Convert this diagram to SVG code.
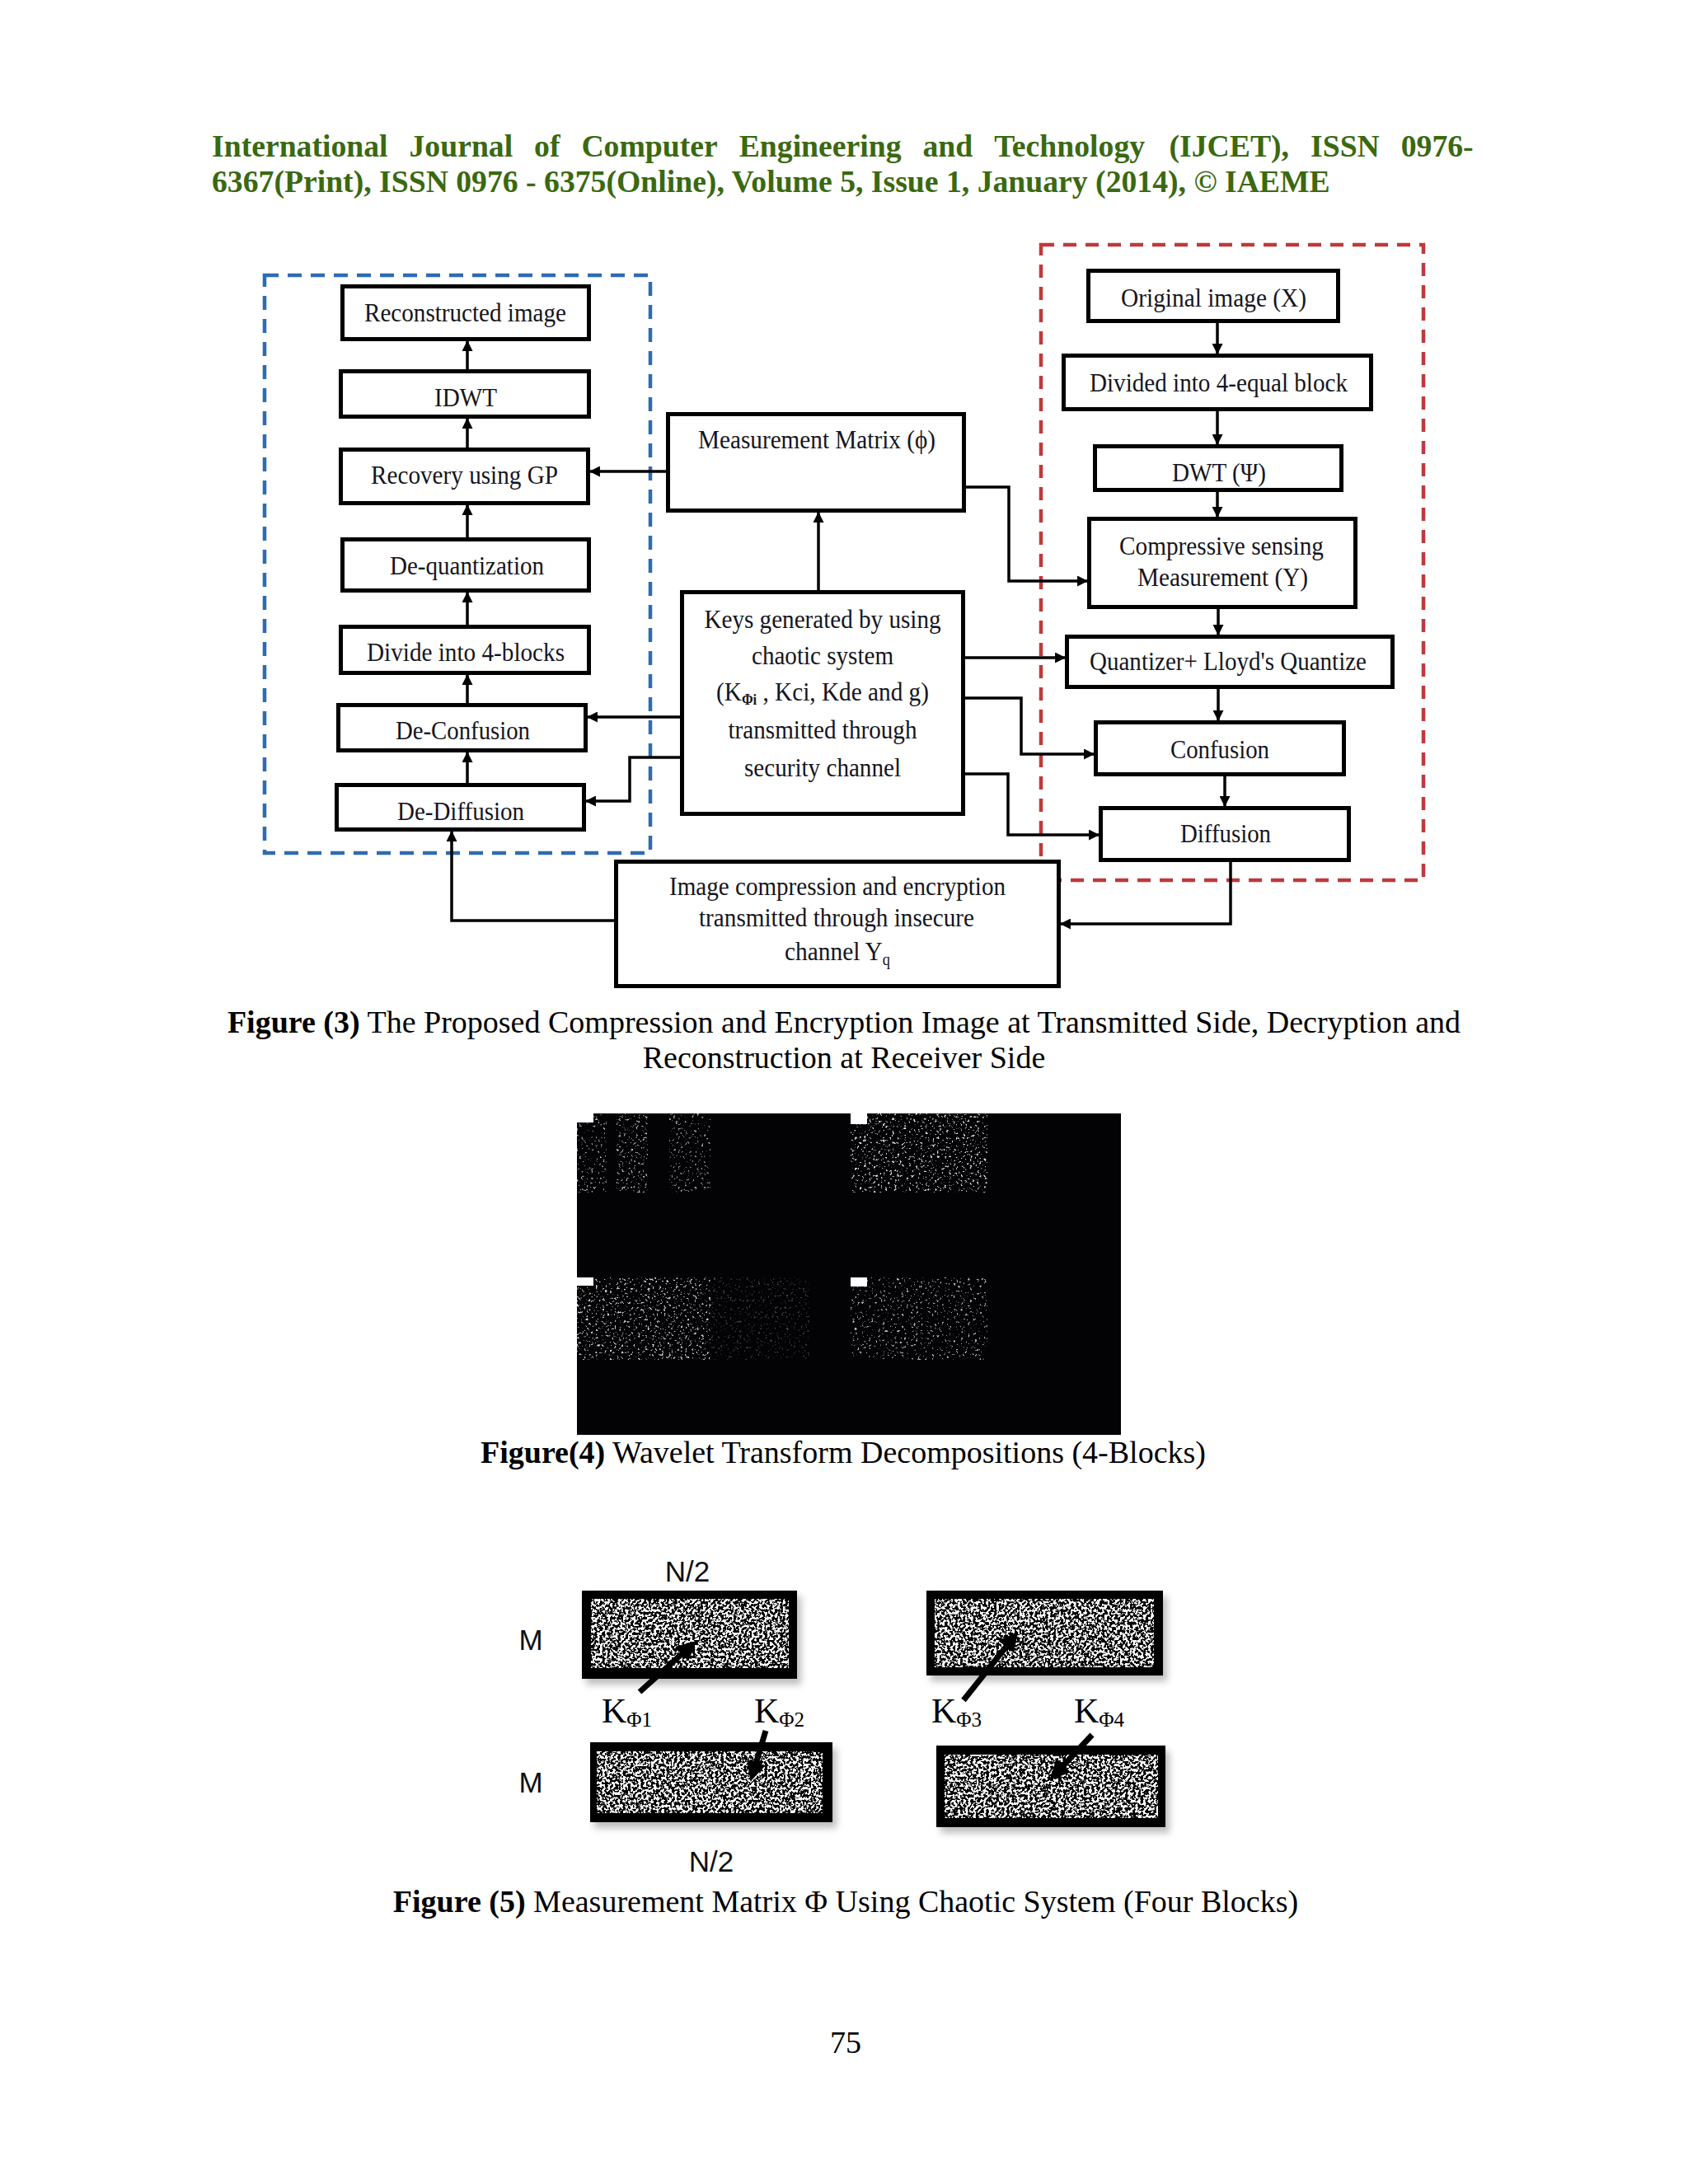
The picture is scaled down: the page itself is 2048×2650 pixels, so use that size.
<svg xmlns="http://www.w3.org/2000/svg" width="2048" height="2650" viewBox="0 0 2048 2650">
<style>
.hdr{font-family:"Liberation Serif","Times New Roman",serif;font-weight:bold;font-size:37.7px;fill:#3a6910}
.box{fill:#fff;stroke:#000;stroke-width:5}
.lbl{font-family:"Liberation Serif","Times New Roman",serif;font-size:32px;fill:#151520;text-anchor:middle}
.cap{font-family:"Liberation Serif","Times New Roman",serif;font-size:38px;fill:#000}
.b{font-weight:bold}
.con{fill:none;stroke:#000;stroke-width:3.5}
.sans{font-family:"Liberation Sans","Open Sans",sans-serif;font-size:35px;fill:#111;text-anchor:middle}
.kl{font-family:"Liberation Serif","Times New Roman",serif;font-size:42px;fill:#000}
.blk{fill:#000}
.shd{fill:#888;opacity:.55;filter:url(#blur)}
</style>
<defs>
<marker id="ah" viewBox="0 0 12 12" refX="11" refY="6" markerWidth="13" markerHeight="13" markerUnits="userSpaceOnUse" orient="auto"><path d="M0,0 L12,6 L0,12 z" fill="#000"/></marker>
<marker id="ah5" viewBox="0 0 12 12" refX="6" refY="6" markerWidth="24" markerHeight="24" markerUnits="userSpaceOnUse" orient="auto"><path d="M0,0 L12,6 L0,12 z" fill="#000"/></marker>
<filter id="bw" x="0" y="0" width="1" height="1" color-interpolation-filters="sRGB">
<feTurbulence type="fractalNoise" baseFrequency="0.32" numOctaves="2" seed="2"/>
<feColorMatrix type="matrix" values="0 0 0 0 1  0 0 0 0 1  0 0 0 0 1  16 0 0 0 -7.7"/>
<feComposite in2="SourceAlpha" operator="in"/>
</filter>
<filter id="bw2" x="0" y="0" width="1" height="1" color-interpolation-filters="sRGB">
<feTurbulence type="fractalNoise" baseFrequency="0.32" numOctaves="2" seed="9"/>
<feColorMatrix type="matrix" values="0 0 0 0 1  0 0 0 0 1  0 0 0 0 1  16 0 0 0 -7.7"/>
<feComposite in2="SourceAlpha" operator="in"/>
</filter>
<filter id="speck" x="0" y="0" width="1" height="1" color-interpolation-filters="sRGB">
<feTurbulence type="fractalNoise" baseFrequency="0.35" numOctaves="3" seed="7"/>
<feColorMatrix type="matrix" values="0 0 0 0 1  0 0 0 0 1  0 0 0 0 1  10 0 0 0 -6.4"/>
<feComposite in2="SourceAlpha" operator="in"/>
</filter>
<filter id="speck2" x="0" y="0" width="1" height="1" color-interpolation-filters="sRGB">
<feTurbulence type="fractalNoise" baseFrequency="0.35" numOctaves="3" seed="21"/>
<feColorMatrix type="matrix" values="0 0 0 0 1  0 0 0 0 1  0 0 0 0 1  10 0 0 0 -6.2"/>
<feComposite in2="SourceAlpha" operator="in"/>
</filter>
<filter id="blur" x="-20%" y="-20%" width="140%" height="140%"><feGaussianBlur stdDeviation="4"/></filter>
</defs>
<rect width="2048" height="2650" fill="#fff"/>

<g id="header">
<text class="hdr" y="190"><tspan x="257">International</tspan><tspan x="496.5">Journal</tspan><tspan x="648.1">of</tspan><tspan x="705.4">Computer</tspan><tspan x="896.7">Engineering</tspan><tspan x="1119.5">and</tspan><tspan x="1206.2">Technology</tspan><tspan x="1418.5">(IJCET),</tspan><tspan x="1590">ISSN</tspan><tspan x="1699.7">0976-</tspan></text>
<text class="hdr" x="257" y="233">6367(Print), ISSN 0976 - 6375(Online), Volume 5, Issue 1, January (2014), © IAEME</text>
</g>

<g id="receiver-side">
<rect x="321" y="334" width="468" height="701" fill="none" stroke="#2f6bb3" stroke-width="4.5" stroke-dasharray="17 11"/>
</g>
<g id="transmitter-side">
<rect x="1263" y="297" width="464" height="771" fill="none" stroke="#c0393b" stroke-width="4.5" stroke-dasharray="16 11"/>
</g>

<g id="connectors">
<path class="con" marker-end="url(#ah)" d="M567,450 L567,414"/>
<path class="con" marker-end="url(#ah)" d="M567,545 L567,508"/>
<path class="con" marker-end="url(#ah)" d="M567,654 L567,613"/>
<path class="con" marker-end="url(#ah)" d="M567,760 L567,719"/>
<path class="con" marker-end="url(#ah)" d="M567,855 L567,819"/>
<path class="con" marker-end="url(#ah)" d="M567,952 L567,913"/>
<path class="con" marker-end="url(#ah)" d="M1477,392 L1477,429"/>
<path class="con" marker-end="url(#ah)" d="M1477,499 L1477,539"/>
<path class="con" marker-end="url(#ah)" d="M1477,597 L1477,627"/>
<path class="con" marker-end="url(#ah)" d="M1478,739 L1478,770"/>
<path class="con" marker-end="url(#ah)" d="M1478,836 L1478,874"/>
<path class="con" marker-end="url(#ah)" d="M1486,942 L1486,978"/>
<path class="con" marker-end="url(#ah)" d="M808,572 L716,572"/>
<path class="con" marker-end="url(#ah)" d="M825,870 L713,870"/>
<path class="con" marker-end="url(#ah)" d="M825,919 L764,919 L764,972 L711,972"/>
<path class="con" marker-end="url(#ah)" d="M993,716 L993,622"/>
<path class="con" marker-end="url(#ah)" d="M1172,591 L1224,591 L1224,705 L1319,705"/>
<path class="con" marker-end="url(#ah)" d="M1171,798 L1292,798"/>
<path class="con" marker-end="url(#ah)" d="M1167,847 L1239,847 L1239,915 L1327,915"/>
<path class="con" marker-end="url(#ah)" d="M1171,939 L1223,939 L1223,1013 L1333,1013"/>
<path class="con" marker-end="url(#ah)" d="M1493,1046 L1493,1121 L1287,1121"/>
<path class="con" marker-end="url(#ah)" d="M745,1117 L548,1117 L548,1009"/>
</g>

<g id="n-reconstructed"><rect class="box" x="415.5" y="347.5" width="299" height="64"/><text class="lbl" x="564.5" y="390" textLength="245" lengthAdjust="spacingAndGlyphs">Reconstructed image</text></g>
<g id="n-idwt"><rect class="box" x="413.5" y="450.5" width="301" height="55"/><text class="lbl" x="565" y="493" textLength="76" lengthAdjust="spacingAndGlyphs">IDWT</text></g>
<g id="n-recovery"><rect class="box" x="413.5" y="545.5" width="300" height="65"/><text class="lbl" x="563.5" y="587" textLength="227" lengthAdjust="spacingAndGlyphs">Recovery using GP</text></g>
<g id="n-dequant"><rect class="box" x="415.5" y="654.5" width="299" height="62"/><text class="lbl" x="566.5" y="697" textLength="187" lengthAdjust="spacingAndGlyphs">De-quantization</text></g>
<g id="n-divide"><rect class="box" x="413.5" y="760.5" width="301" height="56"/><text class="lbl" x="565" y="802" textLength="240" lengthAdjust="spacingAndGlyphs">Divide into 4-blocks</text></g>
<g id="n-deconfusion"><rect class="box" x="410.5" y="855.5" width="300" height="55"/><text class="lbl" x="561.5" y="897" textLength="163" lengthAdjust="spacingAndGlyphs">De-Confusion</text></g>
<g id="n-dediffusion"><rect class="box" x="408.5" y="952.5" width="300" height="54"/><text class="lbl" x="559" y="995" textLength="154" lengthAdjust="spacingAndGlyphs">De-Diffusion</text></g>

<g id="n-measurement"><rect class="box" x="810.5" y="502.5" width="359" height="117"/><text class="lbl" x="991" y="544" textLength="288" lengthAdjust="spacingAndGlyphs">Measurement Matrix (ϕ)</text></g>
<g id="n-keys"><rect class="box" x="827.5" y="718.5" width="341" height="269"/>
<text class="lbl" x="998" y="762" textLength="287" lengthAdjust="spacingAndGlyphs">Keys generated by using</text>
<text class="lbl" x="998" y="806" textLength="172" lengthAdjust="spacingAndGlyphs">chaotic system</text>
<text class="lbl" x="998" y="850" textLength="258" lengthAdjust="spacingAndGlyphs">(K<tspan font-size="18" font-weight="bold" dy="5">Φi</tspan><tspan dy="-5"> , Kci, Kde and g)</tspan></text>
<text class="lbl" x="998" y="896" textLength="229" lengthAdjust="spacingAndGlyphs">transmitted through</text>
<text class="lbl" x="998" y="942" textLength="190" lengthAdjust="spacingAndGlyphs">security channel</text>
</g>
<g id="n-channel"><rect class="box" x="747.5" y="1045.5" width="537" height="151"/>
<text class="lbl" x="1016" y="1086" textLength="408" lengthAdjust="spacingAndGlyphs">Image compression and encryption</text>
<text class="lbl" x="1015" y="1124" textLength="334" lengthAdjust="spacingAndGlyphs">transmitted through insecure</text>
<text class="lbl" x="1016" y="1165" textLength="128" lengthAdjust="spacingAndGlyphs">channel Y<tspan font-size="20" dy="6">q</tspan></text>
</g>

<g id="n-original"><rect class="box" x="1320.5" y="328.5" width="303" height="61"/><text class="lbl" x="1472.5" y="372" textLength="225" lengthAdjust="spacingAndGlyphs">Original image (X)</text></g>
<g id="n-divided"><rect class="box" x="1290.5" y="431.5" width="373" height="65"/><text class="lbl" x="1478.5" y="475" textLength="313" lengthAdjust="spacingAndGlyphs">Divided into 4-equal block</text></g>
<g id="n-dwt"><rect class="box" x="1328.5" y="541.5" width="299" height="53"/><text class="lbl" x="1479" y="584" textLength="114" lengthAdjust="spacingAndGlyphs">DWT (Ψ)</text></g>
<g id="n-cs"><rect class="box" x="1321.5" y="629.5" width="323" height="107"/><text class="lbl" x="1482" y="673" textLength="248" lengthAdjust="spacingAndGlyphs">Compressive sensing</text><text class="lbl" x="1483.5" y="711" textLength="207" lengthAdjust="spacingAndGlyphs">Measurement (Y)</text></g>
<g id="n-quantizer"><rect class="box" x="1294.5" y="772.5" width="395" height="61"/><text class="lbl" x="1490" y="813" textLength="336" lengthAdjust="spacingAndGlyphs">Quantizer+ Lloyd's Quantize</text></g>
<g id="n-confusion"><rect class="box" x="1329.5" y="876.5" width="301" height="63"/><text class="lbl" x="1480" y="920" textLength="120" lengthAdjust="spacingAndGlyphs">Confusion</text></g>
<g id="n-diffusion"><rect class="box" x="1335.5" y="980.5" width="301" height="63"/><text class="lbl" x="1487" y="1022" textLength="110" lengthAdjust="spacingAndGlyphs">Diffusion</text></g>

<g id="caption3">
<text class="cap" x="1024" y="1253" text-anchor="middle"><tspan class="b">Figure (3)</tspan> The Proposed Compression and Encryption Image at Transmitted Side, Decryption and</text>
<text class="cap" x="1024" y="1296" text-anchor="middle">Reconstruction at Receiver Side</text>
</g>

<g id="figure4">
<rect x="700" y="1351" width="660" height="390" fill="#030306"/>
<rect x="700" y="1351" width="36" height="96" fill="#fff" filter="url(#speck)" opacity="0.7"/>
<rect x="748" y="1351" width="38" height="96" fill="#fff" filter="url(#speck2)" opacity="0.7"/>
<rect x="812" y="1351" width="50" height="96" fill="#fff" filter="url(#speck)" opacity="0.6"/>
<rect x="1032" y="1351" width="166" height="96" fill="#fff" filter="url(#speck2)" opacity="0.85"/>
<rect x="700" y="1550" width="162" height="100" fill="#fff" filter="url(#speck2)" opacity="0.8"/>
<rect x="862" y="1550" width="120" height="100" fill="#fff" filter="url(#speck)" opacity="0.25"/>
<rect x="1032" y="1550" width="166" height="100" fill="#fff" filter="url(#speck)" opacity="0.7"/>
<rect x="700" y="1351" width="20" height="11" fill="#fff"/>
<rect x="1032" y="1351" width="20" height="13" fill="#fff"/>
<rect x="700" y="1550" width="20" height="10" fill="#fff"/>
<rect x="1032" y="1550" width="20" height="11" fill="#fff"/>
</g>
<g id="caption4">
<text class="cap" x="1023" y="1775" text-anchor="middle"><tspan class="b">Figure(4)</tspan> Wavelet Transform Decompositions (4-Blocks)</text>
</g>

<g id="figure5">
<text class="sans" x="834" y="1919">N/2</text>
<text class="sans" x="644" y="2002">M</text>
<text class="sans" x="644" y="2175">M</text>
<text class="sans" x="863" y="2271">N/2</text>
<g id="block1"><rect class="shd" x="711" y="1937" width="261" height="107"/><rect class="blk" x="706" y="1930" width="261" height="107"/><rect x="717" y="1940" width="240" height="84" fill="#fff" filter="url(#bw)"/></g>
<g id="block3"><rect class="shd" x="1129" y="1937" width="287" height="103"/><rect class="blk" x="1124" y="1930" width="287" height="103"/><rect x="1134" y="1940" width="266" height="83" fill="#fff" filter="url(#bw2)"/></g>
<g id="block2"><rect class="shd" x="721" y="2121" width="294" height="97"/><rect class="blk" x="716" y="2114" width="294" height="97"/><rect x="724" y="2125" width="274" height="75" fill="#fff" filter="url(#bw2)"/></g>
<g id="block4"><rect class="shd" x="1141" y="2125" width="278" height="99"/><rect class="blk" x="1136" y="2118" width="278" height="99"/><rect x="1146" y="2129" width="259" height="77" fill="#fff" filter="url(#bw)"/></g>
<g id="k-arrows" fill="none" stroke="#000" stroke-width="7">
<path marker-end="url(#ah5)" d="M776,2053 L836,1999"/>
<path marker-end="url(#ah5)" d="M929,2100 L914,2150"/>
<path marker-end="url(#ah5)" d="M1169,2063 L1228,1989"/>
<path marker-end="url(#ah5)" d="M1325,2105 L1282,2151"/>
</g>
<text class="kl" x="730" y="2090">K<tspan font-size="25" dy="5">Φ1</tspan></text>
<text class="kl" x="915" y="2090">K<tspan font-size="25" dy="5">Φ2</tspan></text>
<text class="kl" x="1130" y="2090">K<tspan font-size="25" dy="5">Φ3</tspan></text>
<text class="kl" x="1303" y="2090">K<tspan font-size="25" dy="5">Φ4</tspan></text>
</g>
<g id="caption5">
<text class="cap" x="1026" y="2320" text-anchor="middle"><tspan class="b">Figure (5)</tspan> Measurement Matrix Φ Using Chaotic System (Four Blocks)</text>
</g>
<text class="cap" x="1026" y="2491" text-anchor="middle" font-size="36">75</text>
</svg>
